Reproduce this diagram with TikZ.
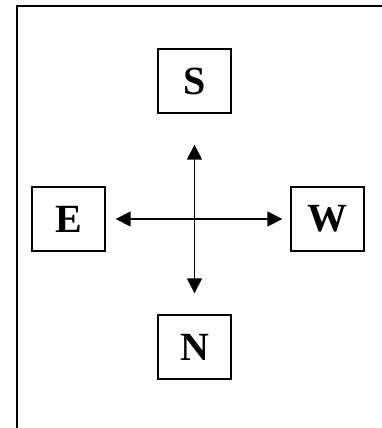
\documentclass[tikz,border=0pt]{standalone}
\usepackage{fontspec}
\setmainfont{Liberation Serif}
\usetikzlibrary{arrows.meta}
\begin{document}
\begin{tikzpicture}[x=1pt,y=-1pt,
  dirbox/.style={draw,line width=1.4pt,minimum width=73pt,minimum height=64pt,inner sep=0pt,
    font=\fontsize{40}{44}\selectfont\bfseries},
  dirarrow/.style={line width=1.6pt,{Triangle[length=15pt,width=15pt]}-{Triangle[length=15pt,width=15pt]}}]
\useasboundingbox (0,0) rectangle (382,428);
\draw[line width=2.4pt] (17,428) -- (17,6) -- (382,6);
\node[dirbox] (S) at (194.5,81) {S};
\node[dirbox] (N) at (194.5,347) {N};
\node[dirbox] (E) at (68.5,219) {E};
\node[dirbox] (W) at (327.5,219) {W};
\draw[dirarrow,shorten <=31pt,shorten >=21pt] (S.south) -- (N.north);
\draw[dirarrow,shorten <=10pt,shorten >=8pt] (E.east) -- (W.west);
\end{tikzpicture}
\end{document}
